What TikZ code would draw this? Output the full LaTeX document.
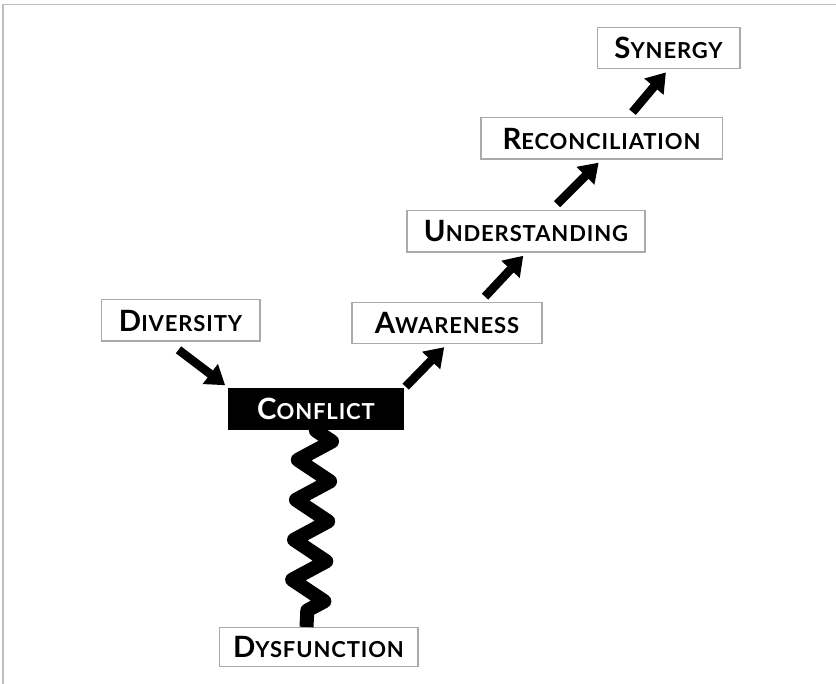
\documentclass[tikz,border=0pt]{standalone}
\usepackage{fontspec}
\setmainfont{Lato}[LetterSpace=4]
\usetikzlibrary{arrows.meta,decorations.pathmorphing}

\newcommand{\capword}[2]{{\fontsize{22}{22}\selectfont #1}{\fontsize{16.5}{16.5}\selectfont #2}}

\tikzset{every picture/.style={line width=0.75pt}}

\begin{document}
\begin{tikzpicture}[x=0.75pt,y=0.75pt,yscale=-1,xscale=1,
	box/.style={draw={rgb, 255:red, 170; green, 170; blue, 170}, line width=1pt, fill=white, minimum height=31pt, inner xsep=4pt, inner ysep=0pt, font=\bfseries},
	hot/.style={box, draw=black, fill=black, text=white},
	stair/.style={line width=6.5pt, -{Triangle[length=14pt,width=18pt]}, shorten <=0pt, shorten >=3pt}]
		\useasboundingbox (0,0) rectangle (836,684);
		%frame
		\draw [color={rgb, 255:red, 190; green, 190; blue, 190}, line width=1.2pt]  (3,684) -- (3,4.5) -- (836,4.5) ;
		
		\node [box, minimum width=107pt] (synergy) at (668.5,48) {\capword{S}{YNERGY}};
		\node [box, minimum width=181pt] (reconc) at (601.5,138.5) {\capword{R}{ECONCILIATION}};
		\node [box, minimum width=178.5pt] (underst) at (526,231.5) {\capword{U}{NDERSTANDING}};
		\node [box, minimum width=142.5pt] (aware) at (447,323) {\capword{A}{WARENESS}};
		\node [box, minimum width=119pt] (divers) at (180.5,320.5) {\capword{D}{IVERSITY}};
		\node [box, minimum width=149pt, minimum height=29pt] (dysfunc) at (318.5,647) {\capword{D}{YSFUNCTION}};
		
		%spring down to dysfunction
		\draw [line width=10.5pt, line join=round, decorate, decoration={zigzag, segment length=30pt, amplitude=12.5pt, pre length=2pt, post length=0pt}]  (316,428) -- ([xshift=-9pt]dysfunc.north) ;
		\node [hot, minimum width=130.5pt] (conflict) at (316,409) {\capword{C}{ONFLICT}};
		
		%steps
		\draw [stair]  ([shift={(-2,8)}]divers.south) -- (conflict.north west) ;
		\draw [stair]  ([shift={(2,-1)}]conflict.north east) -- (aware.south) ;
		\draw [stair]  ([shift={(38,-5)}]aware.north) -- (underst.south) ;
		\draw [stair]  ([shift={(31,-6)}]underst.north) -- (reconc.south) ;
		\draw [stair]  ([shift={(31,-5)}]reconc.north) -- (synergy.south) ;
		
\end{tikzpicture}
\end{document}
